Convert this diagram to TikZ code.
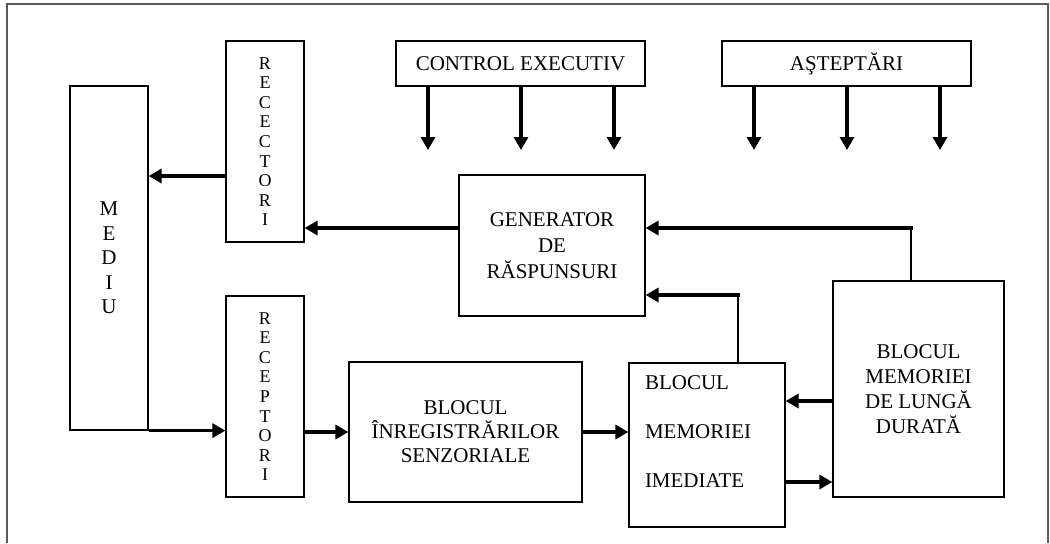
\documentclass[tikz,border=0pt]{standalone}
\usepackage{fontspec}
\setmainfont{Liberation Serif}
\usetikzlibrary{arrows.meta}

\begin{document}
\begin{tikzpicture}[x=0.5pt, y=-0.5pt,
      box/.style={draw, line width=0.6pt, align=center, inner sep=2pt,
                  font=\fontsize{10.5}{12.5}\selectfont},
      tall/.style={box, font=\fontsize{9}{9.8}\selectfont,
                   minimum width=39pt, minimum height=100.5pt},
      arr/.style={-{Triangle[length=6.5pt,width=7pt]}, line width=1.6pt},
      link/.style={line width=0.6pt},
      frame/.style={draw=black!65, line width=0.7pt}
    ]
    \useasboundingbox (0,0) rectangle (1050,543);
    \draw[frame] (7,543) |- (1048,4) -- (1048,543);

    \node[box, font=\fontsize{10.5}{12.3}\selectfont,
          minimum width=39pt, minimum height=172pt] (mediu) at (109,258)
      {M\\E\\D\\I\\U};
    \node[tall] (efect) at (265,141.5) {R\\E\\C\\E\\C\\T\\O\\R\\I};
    \node[tall] (recep) at (265,396.5) {R\\E\\C\\E\\P\\T\\O\\R\\I};
    \node[box, minimum width=124.5pt, minimum height=22.5pt] (ctrl)
      at (520.5,63.5) {CONTROL EXECUTIV};
    \node[box, minimum width=124.5pt, minimum height=22.5pt] (astept)
      at (846.5,63.5) {AŞTEPTĂRI};
    \node[box, font=\fontsize{10.5}{13}\selectfont,
          minimum width=93pt, minimum height=70.5pt] (gen) at (552,245.5)
      {GENERATOR\\DE\\RĂSPUNSURI};
    \node[box, font=\fontsize{10.5}{12}\selectfont,
          minimum width=116.5pt, minimum height=70pt] (inreg) at (465.5,432)
      {BLOCUL\\ÎNREGISTRĂRILOR\\SENZORIALE};
    \node[box, align=left, text width=62pt, text depth=62pt,
          minimum width=78pt, minimum height=82pt] (imed) at (707,445)
      {BLOCUL\\[12pt]MEMORIEI\\[12pt]IMEDIATE};
    \node[box, minimum width=85.5pt, minimum height=108pt] (lunga)
      at (918.5,389) {BLOCUL\\MEMORIEI\\DE LUNGĂ\\DURATĂ};

    \coordinate (c1) at (428,150);
    \coordinate (c2) at (521,150);
    \coordinate (c3) at (614,150);
    \coordinate (a1) at (754,150);
    \coordinate (a2) at (847,150);
    \coordinate (a3) at (940,150);
    \coordinate (k1) at (738,295);
    \coordinate (k2) at (911,228);

    \draw[arr] (ctrl.south -| c1) -- (c1);
    \draw[arr] (ctrl.south -| c2) -- (c2);
    \draw[arr] (ctrl.south -| c3) -- (c3);
    \draw[arr] (astept.south -| a1) -- (a1);
    \draw[arr] (astept.south -| a2) -- (a2);
    \draw[arr] (astept.south -| a3) -- (a3);

    \draw[arr] (efect.west |- 0,176) -- (mediu.east |- 0,176);
    \draw[arr] (gen.west |- 0,228) -- (efect.east |- 0,228);
    \draw[arr] (mediu.south east) -- (mediu.south east -| recep.west);
    \draw[arr] (recep.east |- inreg.west) -- (inreg.west);
    \draw[arr] (inreg.east) -- (inreg.east -| imed.west);
    \draw[arr] (lunga.west |- 0,401) -- (imed.east |- 0,401);
    \draw[arr] (imed.east |- 0,482) -- (lunga.west |- 0,482);
    \draw[link] (imed.north -| k1) -- (k1);
    \draw[arr] ([xshift=1pt]k1) -- (gen.east |- k1);
    \draw[link] (lunga.north -| k2) -- (k2);
    \draw[arr] ([xshift=1pt]k2) -- (gen.east |- k2);
  \end{tikzpicture}
\end{document}
